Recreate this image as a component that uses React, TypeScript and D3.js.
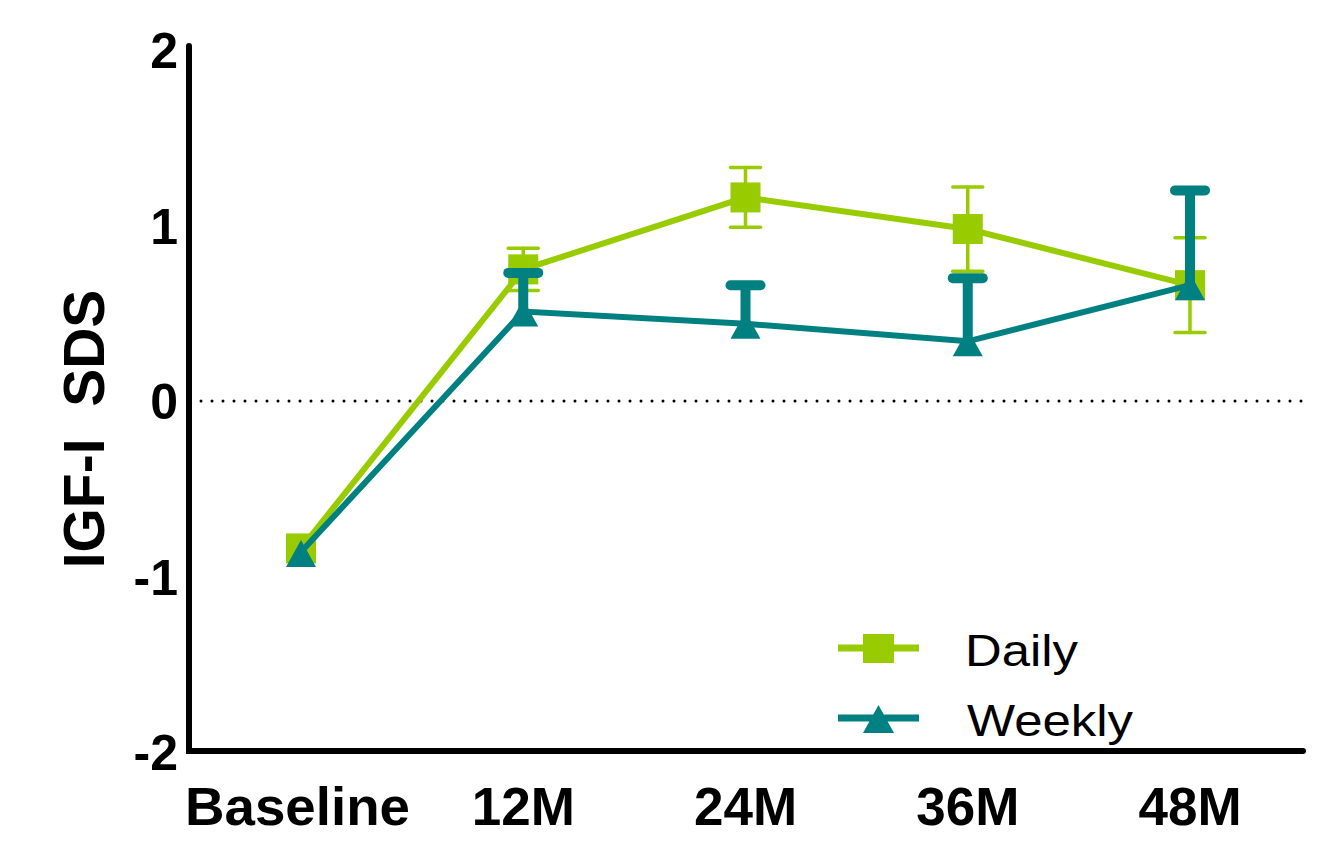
import React from "react";
import * as d3 from "d3";

const categories = ["Baseline", "12M", "24M", "36M", "48M"];
const dailyMean = [-0.84, 0.75, 1.16, 0.98, 0.66];
const dailyErr = [0, 0.12, 0.17, 0.24, 0.27];
const weeklyMean = [-0.86, 0.51, 0.44, 0.34, 0.66];
const weeklyErr = [0, 0.22, 0.22, 0.36, 0.54];
const yTicks = [-2, -1, 0, 1, 2];
const seriesNames = ["Daily", "Weekly"];

const GREEN = "#99CC00";
const TEAL = "#008080";
const FONT = "'Liberation Sans', Arial, Helvetica, sans-serif";

export default function App() {
  const W = 1328, H = 843;
  const x = d3.scalePoint<string>().domain(categories).range([301, 1190]);
  const y = d3.scaleLinear().domain([-2, 2]).range([752, 50]);
  const axisX = 189;
  const axisY = 751;
  const line = d3.line<number>().x((_, i) => x(categories[i])!).y((d) => y(d));

  const tri = (cx: number, cy: number, w: number, up: number, down: number) =>
    `M${cx},${cy - up}L${cx + w / 2},${cy + down}L${cx - w / 2},${cy + down}Z`;

  const legendLen: Record<string, number> = { Daily: 113, Weekly: 166 };

  return (
    <svg width={W} height={H} style={{ position: "absolute", left: 0, top: 0, background: "#fff" }} fontFamily={FONT}>
      {/* zero dotted line */}
      <line x1={201} x2={1305} y1={y(0)} y2={y(0)} stroke="#000" strokeWidth={3} strokeDasharray="0 11" strokeLinecap="round" />
      {/* axes */}
      <path d={`M${axisX},46V${axisY}H1303`} fill="none" stroke="#000" strokeWidth={6} strokeLinecap="round" strokeLinejoin="miter" />
      {/* y tick labels */}
      {yTicks.map((t) => (
        <text key={t} x={178} y={y(t)} dy="0.36em" textAnchor="end" fontSize={50} fontWeight="bold">{t}</text>
      ))}
      {/* x tick labels */}
      {categories.map((c) => (
        c === "Baseline" ? (
          <text key={c} x={185} y={825} fontSize={53} fontWeight="bold" textLength={225} lengthAdjust="spacingAndGlyphs">{c}</text>
        ) : (
          <text key={c} x={x(c)!} y={825} textAnchor="middle" fontSize={53} fontWeight="bold">{c}</text>
        )
      ))}
      {/* y label */}
      <text transform="translate(104,429) rotate(-90)" textAnchor="middle" fontSize={57} fontWeight="bold" xmlSpace="preserve">IGF-I  SDS</text>

      {/* Daily series */}
      <g>
        {categories.map((c, i) => dailyErr[i] > 0 && (
          <g key={c} stroke={GREEN} strokeWidth={3.5} strokeLinecap="round">
            <line x1={x(c)} x2={x(c)} y1={y(dailyMean[i] - dailyErr[i])} y2={y(dailyMean[i] + dailyErr[i])} />
            <line x1={x(c)! - 15} x2={x(c)! + 15} y1={y(dailyMean[i] + dailyErr[i])} y2={y(dailyMean[i] + dailyErr[i])} />
            <line x1={x(c)! - 15} x2={x(c)! + 15} y1={y(dailyMean[i] - dailyErr[i])} y2={y(dailyMean[i] - dailyErr[i])} />
          </g>
        ))}
        <path d={line(dailyMean)!} fill="none" stroke={GREEN} strokeWidth={6} />
        {categories.map((c, i) => (
          <rect key={c} x={x(c)! - 15} y={y(dailyMean[i]) - 15} width={30} height={30} fill={GREEN} />
        ))}
      </g>

      {/* Weekly series */}
      <g>
        <path d={line(weeklyMean)!} fill="none" stroke={TEAL} strokeWidth={6} />
        {categories.map((c, i) => weeklyErr[i] > 0 && (
          <g key={c} stroke={TEAL} strokeWidth={10} strokeLinecap="round">
            <line x1={x(c)} x2={x(c)} y1={y(weeklyMean[i])} y2={y(weeklyMean[i] + weeklyErr[i])} strokeLinecap="butt" />
            <line x1={x(c)! - 15} x2={x(c)! + 15} y1={y(weeklyMean[i] + weeklyErr[i])} y2={y(weeklyMean[i] + weeklyErr[i])} />
          </g>
        ))}
        {categories.map((c, i) => (
          <path key={c} d={tri(x(c)!, y(weeklyMean[i]), 30, 12, 15)} fill={TEAL} />
        ))}
      </g>

      {/* legend */}
      {seriesNames.map((s, i) => {
        const ly = i === 0 ? 648 : 718;
        const col = i === 0 ? GREEN : TEAL;
        return (
          <g key={s}>
            <line x1={838} x2={919} y1={ly} y2={ly} stroke={col} strokeWidth={7} />
            {i === 0 ? (
              <rect x={863} y={ly - 14} width={31} height={29} fill={col} />
            ) : (
              <path d={tri(878.5, ly, 31, 13, 15)} fill={col} />
            )}
            <text x={i === 0 ? 965 : 967} y={ly + 18} fontSize={44} textLength={legendLen[s]} lengthAdjust="spacingAndGlyphs">{s}</text>
          </g>
        );
      })}
    </svg>
  );
}
